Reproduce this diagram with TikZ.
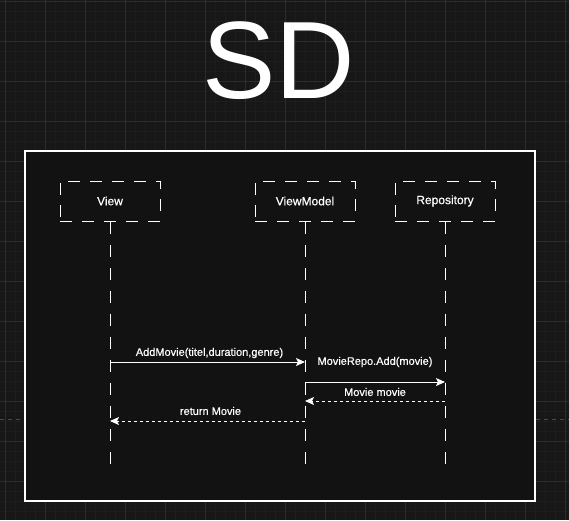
\documentclass[tikz,border=0pt]{standalone}
\usepackage{fontspec}
\setmainfont{Liberation Sans}
\newfontfamily\labelfont[FakeBold=0.5]{Liberation Sans}
\usetikzlibrary{arrows.meta,positioning}

\definecolor{canvasbg}{HTML}{171717}
\definecolor{framebg}{HTML}{121212}
\definecolor{gridminor}{HTML}{1D1D1D}
\definecolor{gridmajor}{HTML}{2C2C2C}
\definecolor{pagebreak}{HTML}{4A4A4A}

\begin{document}
\begin{tikzpicture}[
  x=1pt, y=-1pt,
  lifebox/.style={draw=white, text=white, dash pattern=on 12pt off 10pt,
    line width=1pt, minimum width=100pt, minimum height=40pt,
    font=\labelfont\fontsize{12}{14}\selectfont},
  lifeline/.style={draw=white, dash pattern=on 12pt off 11pt, line width=1pt},
  call/.style={draw=white, line width=1pt, -{Stealth[length=9pt,width=8pt,inset=2pt]}},
  reply/.style={call, dash pattern=on 3pt off 3pt},
  msglabel/.style={text=white, font=\labelfont\fontsize{11}{13}\selectfont, inner sep=1pt}
  ]

\useasboundingbox (0,0) rectangle (569,520);

% Canvas and grid
\fill[canvasbg] (0,0) rectangle (569,520);
\foreach \gx in {5,15,...,565} \draw[gridminor, line width=0.6pt] (\gx,0) -- (\gx,520);
\foreach \gy in {1,11,...,511} \draw[gridminor, line width=0.6pt] (0,\gy) -- (569,\gy);
\foreach \gx in {5,45,...,565} \draw[gridmajor, line width=0.8pt] (\gx,0) -- (\gx,520);
\foreach \gy in {1,41,...,481} \draw[gridmajor, line width=0.8pt] (0,\gy) -- (569,\gy);
\draw[pagebreak, dash pattern=on 4pt off 4pt, line width=0.8pt] (0,419) -- (569,419);

% Title
\node[text=white, font=\fontsize{110}{110}\selectfont, anchor=base] (title) at (279,98) {SD};

% Frame
\node[draw=white, fill=framebg, line width=1.5pt, minimum width=510pt,
  minimum height=350pt] (frame) at (280,326) {};

% Participants
\node[lifebox] (view) at (110,201) {View};
\node[lifebox] (vm) at (305,201) {ViewModel};
\node[lifebox] (repo) at (445,201) {Repository};

% Lifelines
\coordinate (lifeEnd) at (0,472);
\draw[lifeline] (view.south) -- (view |- lifeEnd);
\draw[lifeline] (vm.south) -- (vm |- lifeEnd);
\draw[lifeline] (repo.south) -- (repo |- lifeEnd);

% Messages
\coordinate (addY) at (0,362);
\coordinate (repoY) at (0,382);
\coordinate (movieY) at (0,401);
\coordinate (retY) at (0,421);

\draw[call] (view |- addY) -- node[msglabel, xshift=2pt, yshift=9pt] (addLbl) {AddMovie(titel,duration,genre)} (vm |- addY);
\draw[call] (vm |- repoY) -- node[msglabel, yshift=20pt] (repoLbl) {MovieRepo.Add(movie)} (repo |- repoY);
\draw[reply] (repo |- movieY) -- node[msglabel, yshift=9pt] (movieLbl) {Movie movie} (vm |- movieY);
\draw[reply] (vm |- retY) -- node[msglabel, xshift=3pt, yshift=10pt] (retLbl) {return Movie} (view |- retY);

\end{tikzpicture}
\end{document}
